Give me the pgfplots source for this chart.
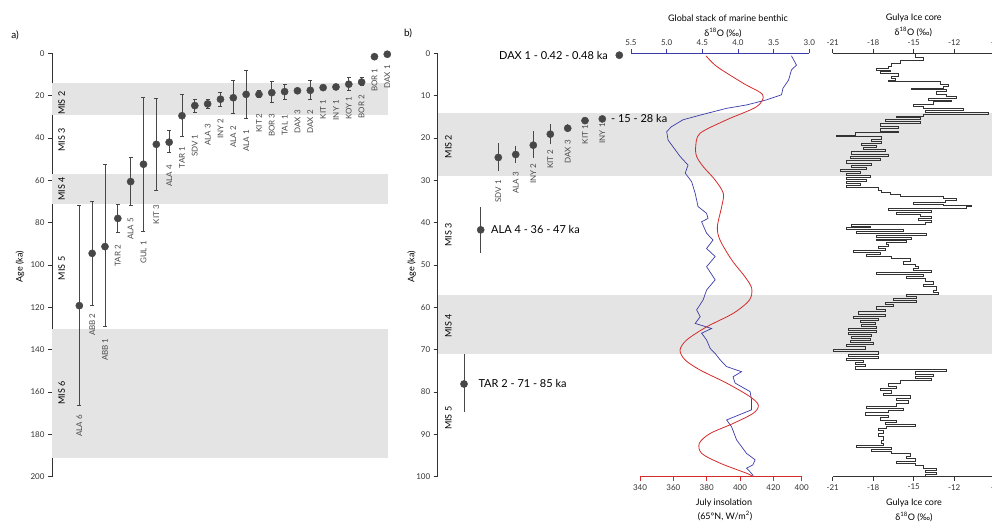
\documentclass[border=0pt]{standalone}
\usepackage{pgfplots}
\pgfplotsset{compat=1.18}
\usepackage{pgfplotstable}
\usepackage{fontspec}
\setmainfont{Lato}
\definecolor{band}{HTML}{E4E4E4}
\definecolor{dot}{HTML}{474747}
\definecolor{ax}{HTML}{333333}
\definecolor{lab}{HTML}{4A4A4A}
\definecolor{bluel}{HTML}{3A3AA8}
\definecolor{redl}{HTML}{D42A2A}

\pgfplotsset{
  base/.style={scale only axis, y dir=reverse, clip=false,
    /pgf/number format/assume math mode=true,
    tick align=outside, major tick length=4pt,
    tick label style={font=\fontsize{8}{9}\selectfont, text=ax},
    axis line style={ax, line width=0.8pt}, tick style={ax, line width=0.8pt}},
}
\tikzset{
  catlab/.style={rotate=90, anchor=east, inner sep=0pt, font=\fontsize{8}{9}\selectfont, text=lab},
  mislab/.style={rotate=90, anchor=center, inner sep=0pt, font=\fontsize{9}{10}\selectfont, text=black},
  biglab/.style={inner sep=0pt, font=\fontsize{11}{12}\selectfont, text=black},
}

% panel a: index, age, error plus (older), error minus (younger)
\pgfplotstableread{
x  y     ep    em
0  119.2 47.2  47.5
1  94.5  24.7  24.5
2  91.3  37.7  38.9
3  78.0  6.7   6.8
4  60.6  11.4  11.5
5  52.4  31.9  31.6
6  43.0  21.9  21.7
7  42.0  5.0   5.4
8  29.5  9.9   10.3
9  24.7  3.2   3.1
10 23.9  1.9   1.9
11 21.7  3.2   3.1
12 21.0  7.3   8.4
13 19.4  11.5  11.5
14 19.4  1.6   2.1
15 18.6  4.7   5.2
16 18.1  3.6   3.3
17 17.7  1.0   1.0
18 17.5  4.5   4.9
19 16.2  0     0
20 15.9  0     0
21 14.6  2.7   3.1
22 13.6  1.5   2.1
23 1.6   0     0
24 0.45  0     0
}\tabA

% panel b
\pgfplotstableread{
x     y     ep   em
26.3  78.1  6.7  7.0
43.0  41.7  5.4  5.3
60.6  24.6  3.1  3.3
78.0  23.9  1.9  2.0
95.6  21.7  3.0  3.3
112.6 19.1  2.3  2.3
130.0 17.7  0.8  0.9
147.3 15.9  0    0
164.6 15.5  0    0
181.6 0.45  0    0
}\tabB

% benthic d18O stack (permil) vs age (ka)
\pgfplotstableread{
v    a
3.25 0.6
3.18 2.8
3.25 3.9
3.29 6.3
3.37 8.3
3.39 9.8
3.60 11.0
3.88 12.2
4.16 13.0
4.53 14.6
4.77 15.7
4.93 17.3
5.00 18.5
4.98 20.5
4.91 22.1
4.81 24.4
4.70 26.4
4.74 28.3
4.65 30.3
4.60 33.1
4.56 36.2
4.44 37.8
4.42 39.0
4.51 39.8
4.44 42.5
4.35 44.1
4.44 46.1
4.32 48.0
4.44 50.4
4.32 53.5
4.44 55.9
4.49 58.3
4.58 60.6
4.53 62.2
4.60 63.8
4.37 65.0
4.51 66.1
4.44 67.7
4.39 69.7
4.32 70.9
4.25 72.4
4.16 74.0
3.95 75.2
4.07 76.4
4.04 77.9
3.83 79.9
3.81 81.9
3.81 84.2
4.16 86.6
4.09 88.2
4.02 91.3
3.88 94.5
3.76 96.0
3.79 97.2
3.88 98.0
3.81 99.2
3.78 100
}\tabBenthic

% July insolation 65N (W/m2) vs age (ka)
\pgfplotstableread{
v     a
379.6 0.6
386   3.1
402   7.1
413.6 9.8
410   12.6
392   15.7
376   18.9
373.4 22.0
374   24.4
378   26.8
385   29.9
390   33.1
389   36.2
386.4 41.0
388   44.1
395   48.8
403   52.8
407   55.5
405.6 58.3
396   61.4
380   64.6
368   67.7
364   70.1
367   72.4
376   74.8
392   77.9
406   81.1
411   83.1
408   85.0
396   87.4
382   89.8
375.6 92.1
377   94.5
388   96.8
404   99.2
408   100
}\tabIns

% Gulya ice core d18O (permil) vs age (ka)
\pgfplotstableread{
a v
0.00 -14.90
0.94 -14.29
1.57 -16.01
2.36 -16.63
3.15 -16.88
3.54 -17.79
3.94 -16.76
4.33 -17.50
4.72 -16.14
5.35 -16.63
5.91 -16.39
6.30 -16.88
6.69 -13.05
7.24 -12.44
7.72 -12.81
8.19 -15.15
8.50 -12.56
9.06 -13.30
9.61 -12.56
10.24 -11.82
10.63 -13.92
11.02 -12.19
11.42 -13.55
11.97 -15.03
12.44 -14.29
12.99 -11.32
13.39 -14.16
13.86 -9.47
14.33 -14.29
14.80 -16.26
15.12 -14.53
15.59 -17.13
16.06 -14.53
16.54 -17.50
17.17 -16.14
17.80 -17.50
18.50 -16.14
18.74 -19.35
19.29 -20.71
19.69 -17.37
20.31 -18.11
20.87 -17.37
21.26 -18.85
21.73 -17.74
22.20 -18.73
22.68 -17.13
23.23 -19.60
23.78 -16.88
24.25 -19.72
24.80 -17.50
25.35 -19.97
25.98 -18.11
26.46 -19.60
26.93 -18.48
27.40 -20.46
27.87 -18.98
28.35 -19.97
28.82 -18.24
29.29 -19.97
29.76 -18.48
30.24 -19.97
30.71 -18.98
31.18 -19.97
31.65 -17.62
32.28 -17.37
32.91 -16.76
33.39 -16.01
33.86 -12.81
34.33 -11.82
34.80 -12.68
35.28 -15.03
35.59 -12.81
35.91 -10.70
36.22 -11.08
36.69 -16.88
37.17 -13.67
37.64 -16.26
38.11 -14.53
38.43 -13.67
39.06 -14.66
39.53 -13.67
40.00 -14.16
40.31 -19.60
40.79 -18.24
41.10 -19.97
41.57 -15.77
42.05 -19.22
42.52 -14.04
42.99 -17.74
43.46 -15.15
43.94 -17.74
44.25 -15.52
44.72 -17.00
45.20 -16.88
45.67 -17.62
46.14 -17.13
46.46 -19.47
46.93 -17.50
47.40 -18.48
47.87 -16.63
48.50 -15.28
49.13 -15.77
49.76 -14.90
50.24 -14.66
50.87 -15.03
51.34 -13.67
51.81 -17.74
52.28 -14.29
52.76 -15.52
53.23 -14.16
53.86 -13.55
54.49 -14.29
55.12 -13.30
55.91 -13.55
56.54 -13.17
57.01 -15.52
57.48 -14.78
57.95 -16.51
58.43 -14.78
58.90 -17.13
59.37 -16.51
59.84 -17.74
60.47 -17.13
61.02 -19.10
61.57 -17.13
62.05 -19.47
62.52 -17.62
62.99 -18.98
63.46 -17.86
63.94 -18.85
64.41 -17.74
64.88 -19.84
65.35 -17.74
65.83 -19.84
66.30 -18.11
66.93 -19.60
67.40 -18.24
67.87 -19.72
68.35 -17.99
68.82 -19.97
69.29 -18.61
69.92 -20.95
70.47 -17.62
71.02 -19.84
71.50 -17.62
71.97 -19.97
72.44 -18.73
72.91 -19.35
73.39 -18.61
74.02 -19.35
74.65 -12.56
75.20 -14.90
75.75 -13.55
76.22 -14.90
76.85 -13.67
77.32 -16.01
77.95 -16.88
78.58 -16.26
79.06 -17.50
79.69 -16.63
80.31 -17.25
80.79 -15.28
81.42 -16.26
82.05 -15.40
82.68 -16.26
83.31 -18.48
83.78 -15.77
84.41 -16.88
84.88 -18.61
85.51 -16.88
85.98 -17.50
86.61 -16.26
87.09 -17.13
87.56 -14.90
88.03 -17.00
88.50 -17.62
89.13 -17.25
89.76 -17.62
90.55 -17.25
91.34 -17.37
92.13 -17.25
92.60 -19.22
93.07 -16.63
93.54 -18.11
94.02 -16.63
94.49 -15.28
95.12 -15.52
95.75 -14.90
96.38 -16.26
96.85 -14.90
97.32 -14.29
97.95 -13.30
98.43 -14.16
98.90 -13.30
99.37 -14.16
100.0 -14.09
}\tabGulya

\begin{document}
\begin{tikzpicture}
\useasboundingbox (0pt,0pt) rectangle (992pt,524pt);

% ---------------- panel a ----------------
\begin{axis}[base, at={(220.15pt,259pt)}, anchor=center,
  width=336.3pt, height=423.4pt,
  xmin=-2.13, xmax=24.08, ymin=0, ymax=200,
  axis y line*=left, axis x line=none, ytick={0,20,...,200}]
\fill[band] (axis cs:-2.13,14) rectangle (axis cs:24.08,29);
\fill[band] (axis cs:-2.13,57) rectangle (axis cs:24.08,71);
\fill[band] (axis cs:-2.13,130) rectangle (axis cs:24.08,191);
\addplot[only marks, mark=*, mark size=3.6pt, mark options={fill=dot, draw=dot},
  error bars/.cd, y dir=both, y explicit, error mark=|,
  error bar style={dot, line width=0.8pt},
  error mark options={dot, line width=0.8pt, mark size=2pt}]
  table[x=x, y=y, y error plus=ep, y error minus=em] {\tabA};
\node[catlab] at (axis cs:0,170.8) {ALA 6};
\node[catlab] at (axis cs:1,122.8) {ABB 2};
\node[catlab] at (axis cs:2,134.6) {ABB 1};
\node[catlab] at (axis cs:3,90.6) {TAR 2};
\node[catlab] at (axis cs:4,77.7) {ALA 5};
\node[catlab] at (axis cs:5,88.7) {GUL 1};
\node[catlab] at (axis cs:6,71.7) {KIT 3};
\node[catlab] at (axis cs:7,52.8) {ALA 4};
\node[catlab] at (axis cs:8,44.1) {TAR 1};
\node[catlab] at (axis cs:9,38.3) {SDV 1};
\node[catlab] at (axis cs:10,33.4) {ALA 3};
\node[catlab] at (axis cs:11,30.7) {INY 2};
\node[catlab] at (axis cs:12,34.3) {ALA 2};
\node[catlab] at (axis cs:13,36.2) {ALA 1};
\node[catlab] at (axis cs:14,28.3) {KIT 2};
\node[catlab] at (axis cs:15,28.3) {BOR 3};
\node[catlab] at (axis cs:16,29.1) {TAL 1};
\node[catlab] at (axis cs:17,26.8) {DAX 3};
\node[catlab] at (axis cs:18,26.8) {DAX 2};
\node[catlab] at (axis cs:19,22.1) {KIT 1};
\node[catlab] at (axis cs:20,22.1) {INY 1};
\node[catlab] at (axis cs:21,20.5) {KOY 1};
\node[catlab] at (axis cs:22,19.7) {BOR 2};
\node[catlab] at (axis cs:23,7.1) {BOR 1};
\node[catlab] at (axis cs:24,5.5) {DAX 1};
\node[mislab] at (axis cs:-1.37,23.6) {MIS 2};
\node[mislab] at (axis cs:-1.37,41) {MIS 3};
\node[mislab] at (axis cs:-1.37,64.1) {MIS 4};
\node[mislab] at (axis cs:-1.37,101.6) {MIS 5};
\node[mislab] at (axis cs:-1.37,160.5) {MIS 6};
\end{axis}

% ---------------- panel b: ages ----------------
\begin{axis}[base, at={(714.85pt,259pt)}, anchor=center,
  width=554.3pt, height=423.4pt,
  xmin=0, xmax=554.3, ymin=0, ymax=100,
  axis y line*=left, axis x line=none, ytick={0,10,...,100}]
\fill[band] (axis cs:0,14) rectangle (axis cs:554.3,29);
\fill[band] (axis cs:0,57) rectangle (axis cs:554.3,71);
\addplot[only marks, mark=*, mark size=3.6pt, mark options={fill=dot, draw=dot},
  error bars/.cd, y dir=both, y explicit,
  error bar style={dot, line width=1pt}, error mark=none]
  table[x=x, y=y, y error plus=ep, y error minus=em] {\tabB};
\node[catlab] at (axis cs:60.6,29.9) {SDV 1};
\node[catlab] at (axis cs:78.0,28.0) {ALA 3};
\node[catlab] at (axis cs:95.6,26.0) {INY 2};
\node[catlab] at (axis cs:112.6,22.8) {KIT 2};
\node[catlab] at (axis cs:130.0,20.5) {DAX 3};
\node[catlab] at (axis cs:147.3,16.9) {KIT 1};
\node[catlab] at (axis cs:164.6,16.5) {INY 1};
\node[biglab, anchor=east] at (axis cs:170.3,0.45) {DAX 1 - 0.42 - 0.48 ka};
\node[biglab, anchor=west] at (axis cs:173.3,15.5) {- 15 - 28 ka};
\node[biglab, anchor=west] at (axis cs:53.3,41.7) {ALA 4 - 36 - 47 ka};
\node[biglab, anchor=west] at (axis cs:40.6,78.1) {TAR 2 - 71 - 85 ka};
\node[mislab] at (axis cs:10.6,22) {MIS 2};
\node[mislab] at (axis cs:10.6,42.9) {MIS 3};
\node[mislab] at (axis cs:10.6,64.4) {MIS 4};
\node[mislab] at (axis cs:10.6,86.2) {MIS 5};
\end{axis}

% ---------------- benthic stack (blue, top axis) ----------------
\begin{axis}[base, at={(720.15pt,259pt)}, anchor=center,
  width=178.3pt, height=423.4pt,
  xmin=3, xmax=5.5, x dir=reverse, ymin=0, ymax=100,
  axis x line*=top, axis y line=none,
  xtick={3,3.5,4,4.5,5,5.5},
  xticklabel style={/pgf/number format/.cd, fixed, fixed zerofill, precision=1},
  axis line style={bluel, line width=0.8pt}, tick style={bluel, line width=0.8pt}]
\addplot[bluel, line width=0.7pt] table[x=v, y=a] {\tabBenthic};
\end{axis}

% ---------------- insolation (red, bottom axis) ----------------
\begin{axis}[base, at={(720.85pt,259pt)}, anchor=center,
  width=161.7pt, height=423.4pt,
  xmin=340, xmax=437, ymin=0, ymax=100,
  axis x line*=bottom, axis y line=none,
  xtick={340,360,380,400,420,437}, xticklabels={340,360,380,400,420,400},
  axis line style={redl, line width=0.8pt}, tick style={redl, line width=0.8pt}]
\addplot[redl, line width=0.8pt, smooth] table[x=v, y=a] {\tabIns};
\end{axis}

% ---------------- Gulya ice core ----------------
\begin{axis}[base, at={(913.7pt,259pt)}, anchor=center,
  width=162pt, height=423.4pt,
  xmin=-21, xmax=-9, ymin=0, ymax=100,
  axis x line*=top, axis y line=none,
  xtick={-21,-18,-15,-12,-9}, xticklabels={-21,-18,-15,-12,-9}]
\addplot[ax, line width=0.7pt, const plot mark right] table[x=v, y=a] {\tabGulya};
\end{axis}
\begin{axis}[base, at={(913.7pt,259pt)}, anchor=center,
  width=162pt, height=423.4pt,
  xmin=-21, xmax=-9, ymin=0, ymax=100,
  axis x line*=bottom, axis y line=none,
  xtick={-21,-18,-15,-12,-9}, xticklabels={-21,-18,-15,-12,-9}]
\end{axis}

% ---------------- free text ----------------
\node[font=\fontsize{10}{11}\selectfont] at (15pt,489pt) {a)};
\node[font=\fontsize{10}{11}\selectfont] at (408pt,491pt) {b)};
\node[rotate=90, font=\fontsize{9}{10}\selectfont] at (20pt,257.3pt) {Age (ka)};
\node[rotate=90, font=\fontsize{9}{10}\selectfont] at (411.7pt,257.3pt) {Age (ka)};
\node[font=\fontsize{9}{10}\selectfont] at (728pt,505.7pt) {Global stack of marine benthic};
\node[font=\fontsize{9}{10}\selectfont] at (723pt,490.7pt) {δ\textsuperscript{18}O (‰)};
\node[font=\fontsize{9}{10}\selectfont] at (913.8pt,505.7pt) {Gulya Ice core};
\node[font=\fontsize{9}{10}\selectfont] at (913.3pt,492.3pt) {δ\textsuperscript{18}O (‰)};
\node[font=\fontsize{9}{10}\selectfont] at (724pt,20.7pt) {July insolation};
\node[font=\fontsize{9}{10}\selectfont] at (725pt,8pt) {(65°N, W/m\textsuperscript{2})};
\node[font=\fontsize{9}{10}\selectfont] at (914pt,20.7pt) {Gulya Ice core};
\node[font=\fontsize{9}{10}\selectfont] at (914pt,7.3pt) {δ\textsuperscript{18}O (‰)};
\end{tikzpicture}
\end{document}
